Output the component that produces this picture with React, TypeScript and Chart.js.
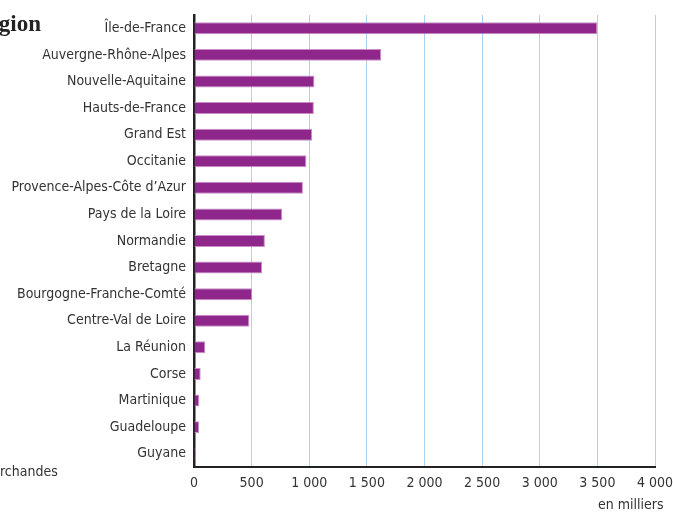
import React, { useEffect, useRef } from "react";
import { Chart, registerables } from "chart.js";

Chart.register(...registerables);

const regions = [
  "Île-de-France",
  "Auvergne-Rhône-Alpes",
  "Nouvelle-Aquitaine",
  "Hauts-de-France",
  "Grand Est",
  "Occitanie",
  "Provence-Alpes-Côte d’Azur",
  "Pays de la Loire",
  "Normandie",
  "Bretagne",
  "Bourgogne-Franche-Comté",
  "Centre-Val de Loire",
  "La Réunion",
  "Corse",
  "Martinique",
  "Guadeloupe",
  "Guyane",
];

const values = [3500, 1625, 1045, 1040, 1025, 975, 945, 765, 615, 590, 505, 480, 98, 58, 46, 44, 14];

const xTicks = [0, 500, 1000, 1500, 2000, 2500, 3000, 3500, 4000];

const FONT = "'Liberation Sans Narrow', 'DejaVu Sans Condensed', 'Roboto', sans-serif";

const fmt = (v: number) => String(v).replace(/\B(?=(\d{3})+(?!\d))/g, " ");

export default function App() {
  const ref = useRef<HTMLCanvasElement | null>(null);
  useEffect(() => {
    if (!ref.current) return;
    const chart = new Chart(ref.current, {
      type: "bar",
      data: {
        labels: regions,
        datasets: [
          {
            data: values,
            backgroundColor: "#8e268c",
            borderColor: "#c98ec8",
            borderWidth: { top: 1, bottom: 1, right: 1, left: 0 } as any,
            barPercentage: 0.45,
            categoryPercentage: 1,
          },
        ],
      },
      options: {
        indexAxis: "y",
        animation: false,
        responsive: false,
        maintainAspectRatio: false,
        layout: { padding: { top: 15, right: 18, left: 0, bottom: 0 } },
        plugins: { legend: { display: false }, tooltip: { enabled: false } },
        scales: {
          x: {
            type: "linear",
            min: 0,
            max: 4000,
            afterBuildTicks: (s: any) => {
              s.ticks = xTicks.map((v) => ({ value: v }));
            },
            afterFit: (s: any) => {
              s.height = 47;
              s.paddingRight = 0;
              s.paddingLeft = 0;
            },
            border: { display: true, color: "#222", width: 2 },
            grid: {
              color: (c: any) => (c.tick && c.tick.value === 0 ? "rgba(0,0,0,0)" : "#a9d3ef"),
              lineWidth: 1,
              drawTicks: false,
            },
            ticks: {
              padding: 8,
              color: "#333",
              font: { family: FONT, size: 14 },
              callback: (v: any) => fmt(Number(v)),
              maxRotation: 0,
            },
          },
          y: {
            afterFit: (s: any) => {
              s.width = 194;
              s.paddingTop = 0;
              s.paddingBottom = 0;
            },
            border: { display: true, color: "#222", width: 2.5 },
            grid: { display: false, drawTicks: false },
            ticks: {
              padding: 8,
              color: "#333",
              font: { family: FONT, size: 14 },
              autoSkip: false,
            },
          },
        },
      },
    });
    return () => chart.destroy();
  }, []);

  return (
    <div style={{ position: "fixed", left: 0, top: 0, width: 673, height: 514, background: "#fff", overflow: "hidden" }}>
      <canvas ref={ref} width={673} height={514} style={{ display: "block" }} />
      <div
        style={{
          position: "absolute",
          left: -28,
          top: 11,
          fontFamily: "'Liberation Serif', 'DejaVu Serif', serif",
          fontWeight: "bold",
          fontSize: 23,
          color: "#222",
          lineHeight: "26px",
        }}
      >
        Région
      </div>
      <div
        style={{
          position: "absolute",
          left: 0,
          top: 462,
          fontFamily: FONT,
          fontSize: 14,
          color: "#333",
          lineHeight: "18px",
        }}
      >
        rchandes
      </div>
      <div
        style={{
          position: "absolute",
          left: 598,
          top: 495,
          fontFamily: FONT,
          fontSize: 14,
          color: "#333",
          lineHeight: "18px",
        }}
      >
        en milliers
      </div>
    </div>
  );
}
